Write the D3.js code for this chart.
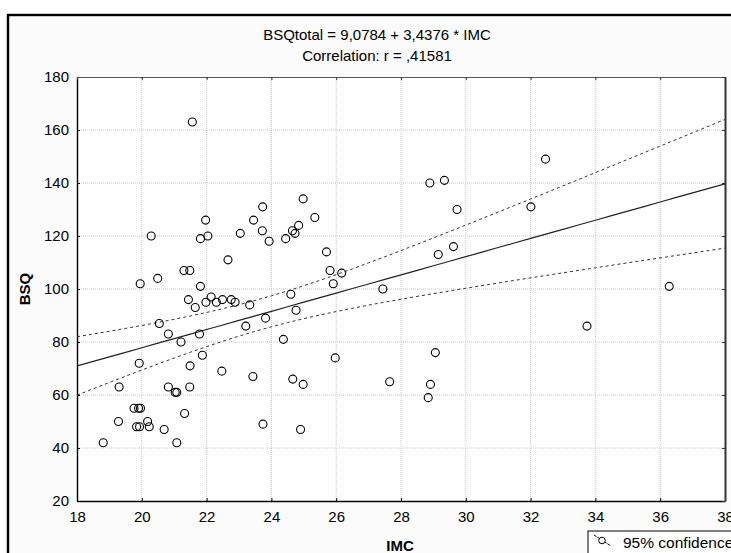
<!DOCTYPE html>
<html>
<head>
<meta charset="utf-8">
<script src="https://cdn.jsdelivr.net/npm/d3@7"></script>
<style>
  body { margin: 0; background: #fff; }
  svg { display: block; font-family: "Liberation Sans", Arial, sans-serif; }
</style>
</head>
<body>
<div id="chart"></div>
<script>
// IMC (x) and BSQ total (y) for each subject
const imc = [21.56, 20.29, 21.97, 22.04, 21.81, 23.45, 23.04, 23.73, 23.72, 22.66,
             21.30, 21.48, 19.95, 20.49, 21.81, 21.44, 21.65, 21.98, 22.14, 22.30,
             22.49, 22.76, 22.88, 23.33, 20.54, 20.82, 21.78, 21.21, 23.21, 19.92,
             21.87, 21.49, 22.47, 23.43, 19.30, 20.82, 21.03, 21.08, 21.48, 19.76,
             19.90, 19.96, 19.28, 19.84, 19.93, 20.18, 20.23, 20.69, 21.32, 18.81,
             21.08, 23.74, 24.90, 24.98, 25.34, 24.65, 24.84, 24.73, 23.93, 24.44,
             25.70, 25.81, 26.17, 25.91, 27.44, 24.60, 24.76, 23.82, 24.37, 25.97,
             24.66, 24.98, 27.65, 29.06, 28.91, 28.84, 32.46, 28.89, 29.34, 29.73,
             32.01, 29.62, 29.15, 36.28, 33.74];
const bsq = [163, 120, 126, 120, 119, 126, 121, 131, 122, 111,
             107, 107, 102, 104, 101, 96, 93, 95, 97, 95,
             96, 96, 95, 94, 87, 83, 83, 80, 86, 72,
             75, 71, 69, 67, 63, 63, 61, 61, 63, 55,
             55, 55, 50, 48, 48, 50, 48, 47, 53, 42,
             42, 49, 47, 134, 127, 122, 124, 121, 118, 119,
             114, 107, 106, 102, 100, 98, 92, 89, 81, 74,
             66, 64, 65, 76, 64, 59, 149, 140, 141, 130,
             131, 116, 113, 101, 86];

const xTicks = [18, 20, 22, 24, 26, 28, 30, 32, 34, 36, 38];
const yTicks = [20, 40, 60, 80, 100, 120, 140, 160, 180];

// fitted line printed in the title
const intercept = 9.0784;
const slope = 3.4376;
const titleLines = ["BSQtotal = 9,0784 + 3,4376 * IMC", "Correlation: r = ,41581"];
const xTitle = "IMC";
const yTitle = "BSQ";
const legendLabel = "95% confidence";

const width = 731, height = 553;
const margin = {left: 77, right: 6, top: 77, bottom: 52};

const svg = d3.select("#chart").append("svg")
    .attr("width", width)
    .attr("height", height);

// outer frame of the graph window
svg.append("rect")
    .attr("x", 8).attr("y", 15)
    .attr("width", 780).attr("height", 600)
    .style("fill", "#fbfbfb")
    .style("stroke", "#000")
    .style("stroke-width", 2.4);

const x = d3.scaleLinear().domain([18, 38]).range([margin.left, width - margin.right]);
const y = d3.scaleLinear().domain([20, 180]).range([height - margin.bottom, margin.top]);

const plot = svg.append("g");

plot.append("rect")
    .attr("x", x(18)).attr("y", y(180))
    .attr("width", x(38) - x(18)).attr("height", y(20) - y(180))
    .style("fill", "#fff");

// dotted grid
plot.append("g").selectAll("line")
    .data(xTicks.slice(1, -1))
    .enter().append("line")
    .attr("x1", d => x(d)).attr("x2", d => x(d))
    .attr("y1", y(20)).attr("y2", y(180))
    .style("stroke", "#c8c8c8")
    .style("stroke-dasharray", "1,1");

plot.append("g").selectAll("line")
    .data(yTicks.slice(1, -1))
    .enter().append("line")
    .attr("x1", x(18)).attr("x2", x(38))
    .attr("y1", d => y(d)).attr("y2", d => y(d))
    .style("stroke", "#c8c8c8")
    .style("stroke-dasharray", "1,1");

// axes, ticks pointing inwards
const fontSize = "15px";
let axB = plot.append("g")
    .attr("transform", "translate(0," + y(20) + ")")
    .call(d3.axisBottom(x).tickValues(xTicks).tickSizeInner(-3).tickSizeOuter(0).tickPadding(10));
let axL = plot.append("g")
    .attr("transform", "translate(" + x(18) + ",0)")
    .call(d3.axisLeft(y).tickValues(yTicks).tickSizeInner(-3).tickSizeOuter(0).tickPadding(8));
let axT = plot.append("g")
    .attr("transform", "translate(0," + y(180) + ")")
    .call(d3.axisTop(x).tickValues(xTicks).tickSizeInner(-3).tickSizeOuter(0).tickFormat(""));
let axR = plot.append("g")
    .attr("transform", "translate(" + x(38) + ",0)")
    .call(d3.axisRight(y).tickValues(yTicks).tickSizeInner(-3).tickSizeOuter(0).tickFormat(""));

[axB, axL].forEach(a => {
    a.selectAll("text").style("font-size", fontSize).style("fill", "#000")
        .style("font-family", '"Liberation Sans", Arial, sans-serif');
    a.select(".domain").style("stroke", "#000").style("stroke-width", 1.4);
    a.selectAll(".tick line").style("stroke", "#000");
});
axT.select(".domain").style("stroke", "#555").style("stroke-width", 1);
axT.selectAll(".tick line").style("stroke", "#333");
axR.select(".domain").style("stroke", "#333").style("stroke-width", 2);
axR.selectAll(".tick line").style("stroke", "#333");

// regression line and 95% confidence band for the mean
const n = imc.length;
const xbar = d3.mean(imc);
const sxx = d3.sum(imc, v => (v - xbar) * (v - xbar));
const sse = d3.sum(imc, (v, i) => Math.pow(bsq[i] - (intercept + slope * v), 2));
const s = Math.sqrt(sse / (n - 2));
const tcrit = 1.989;
const fit = v => intercept + slope * v;
const half = v => tcrit * s * Math.sqrt(1 / n + (v - xbar) * (v - xbar) / sxx);
const xs = d3.range(18, 38.001, 0.5);

svg.append("clipPath").attr("id", "clip").append("rect")
    .attr("x", x(18)).attr("y", y(180))
    .attr("width", x(38) - x(18)).attr("height", y(20) - y(180));

const lines = plot.append("g").attr("clip-path", "url(#clip)");

lines.append("path")
    .datum(xs)
    .attr("d", d3.line().x(d => x(d)).y(d => y(fit(d))))
    .style("fill", "none").style("stroke", "#222").style("stroke-width", 1.2);

[1, -1].forEach(sign => {
    lines.append("path")
        .datum(xs)
        .attr("d", d3.line().x(d => x(d)).y(d => y(fit(d) + sign * half(d))))
        .style("fill", "none").style("stroke", "#333").style("stroke-width", 1)
        .style("stroke-dasharray", "3,3");
});

// points
plot.append("g").selectAll("circle")
    .data(imc)
    .enter().append("circle")
    .attr("cx", d => x(d))
    .attr("cy", (d, i) => y(bsq[i]))
    .attr("r", 4)
    .style("fill", "none")
    .style("stroke", "#000")
    .style("stroke-width", 1.1);

// titles
svg.append("g").selectAll("text")
    .data(titleLines)
    .enter().append("text")
    .attr("x", 377)
    .attr("y", (d, i) => 40 + i * 21)
    .style("text-anchor", "middle")
    .style("font-size", fontSize)
    .text(d => d);

svg.append("text")
    .attr("x", 400).attr("y", 551)
    .style("text-anchor", "middle")
    .style("font-size", fontSize)
    .style("font-weight", "bold")
    .text(xTitle);

svg.append("text")
    .attr("transform", "translate(30,289) rotate(-90)")
    .style("text-anchor", "middle")
    .style("font-size", fontSize)
    .style("font-weight", "bold")
    .text(yTitle);

// legend (cut by the picture edge)
const leg = svg.append("g");
leg.append("rect")
    .attr("x", 588).attr("y", 531)
    .attr("width", 200).attr("height", 40)
    .style("fill", "#fff").style("stroke", "#000").style("stroke-width", 1);
leg.append("path")
    .attr("d", "M594,535L611,546")
    .style("stroke", "#000").style("stroke-width", 1).style("stroke-dasharray", "3,1");
leg.append("circle")
    .attr("cx", 602).attr("cy", 540.5).attr("r", 3.3)
    .style("fill", "#fff").style("stroke", "#000");
leg.append("text")
    .attr("x", 623).attr("y", 548)
    .style("font-size", "15.5px")
    .text(legendLabel);
</script>
</body>
</html>
